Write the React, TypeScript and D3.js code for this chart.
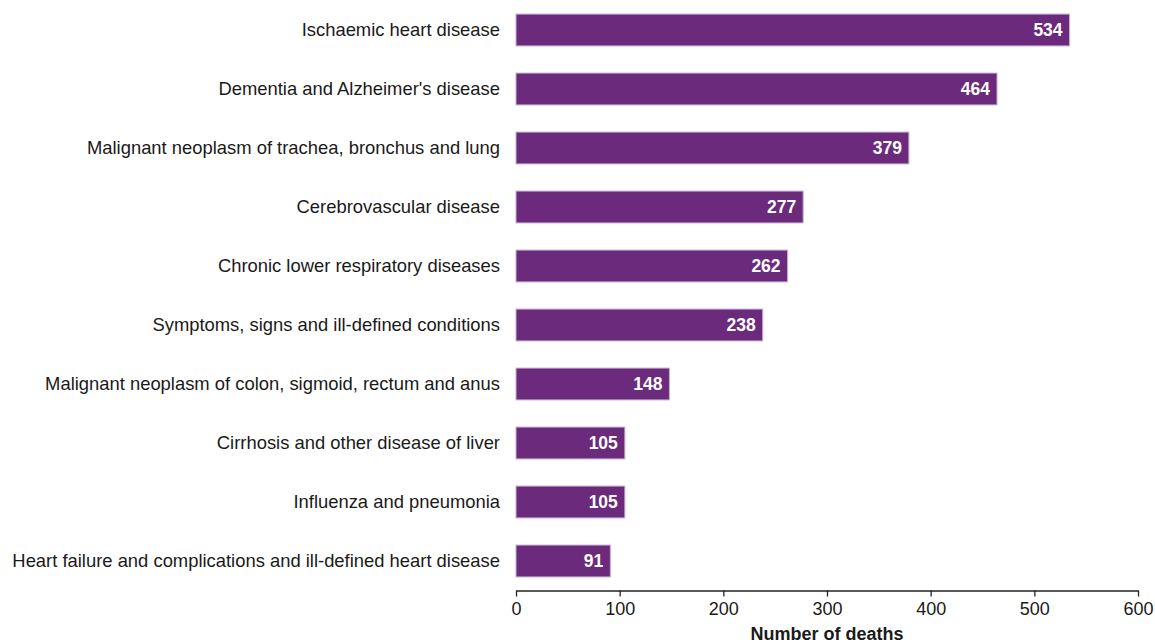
import React, { useEffect, useRef } from "react";
import * as d3 from "d3";

const categories = [
  "Ischaemic heart disease",
  "Dementia and Alzheimer's disease",
  "Malignant neoplasm of trachea, bronchus and lung",
  "Cerebrovascular disease",
  "Chronic lower respiratory diseases",
  "Symptoms, signs and ill-defined conditions",
  "Malignant neoplasm of colon, sigmoid, rectum and anus",
  "Cirrhosis and other disease of liver",
  "Influenza and pneumonia",
  "Heart failure and complications and ill-defined heart disease",
];
const deaths = [534, 464, 379, 277, 262, 238, 148, 105, 105, 91];
const xTicks = [0, 100, 200, 300, 400, 500, 600];
const axisTitle = "Number of deaths";

const W = 1155;
const H = 644;

export default function App() {
  const ref = useRef<SVGSVGElement>(null);
  useEffect(() => {
    const svg = d3.select(ref.current);
    svg.selectAll("*").remove();
    const font = "Liberation Sans, Arial, sans-serif";
    const x = d3.scaleLinear().domain([0, 600]).range([516, 1138]);
    const y = d3
      .scaleBand<string>()
      .domain(categories)
      .range([0.5, 590.5])
      .paddingInner(0.46)
      .paddingOuter(0.23);
    const data = categories.map((c, i) => ({ c, v: deaths[i] }));

    svg
      .selectAll("rect.bar")
      .data(data)
      .join("rect")
      .attr("class", "bar")
      .attr("x", x(0))
      .attr("y", (d) => y(d.c)!)
      .attr("width", (d) => x(d.v) - x(0))
      .attr("height", y.bandwidth())
      .attr("fill", "#6c2a7d")
      .attr("stroke", "#c9aed3")
      .attr("stroke-width", 1);

    svg
      .selectAll("text.val")
      .data(data)
      .join("text")
      .attr("class", "val")
      .attr("x", (d) => x(d.v) - 7)
      .attr("y", (d) => y(d.c)! + y.bandwidth() / 2)
      .attr("dy", "0.35em")
      .attr("text-anchor", "end")
      .attr("fill", "#fff")
      .attr("font-weight", "bold")
      .attr("font-size", 17.5)
      .attr("font-family", font)
      .text((d) => d.v);

    svg
      .selectAll("text.cat")
      .data(data)
      .join("text")
      .attr("class", "cat")
      .attr("x", 500)
      .attr("y", (d) => y(d.c)! + y.bandwidth() / 2)
      .attr("dy", "0.35em")
      .attr("text-anchor", "end")
      .attr("fill", "#1a1a1a")
      .attr("font-size", 18.4)
      .attr("font-family", font)
      .text((d) => d.c);

    const axis = svg
      .append("g")
      .attr("transform", `translate(0,590.5)`)
      .call(d3.axisBottom(x).tickValues(xTicks).tickSize(6).tickSizeOuter(0));
    axis.select(".domain").attr("stroke", "#222").attr("stroke-width", 1.3);
    axis.selectAll(".tick line").attr("stroke", "#222").attr("stroke-width", 1.3);
    axis
      .selectAll(".tick text")
      .attr("font-size", 18)
      .attr("font-family", font)
      .attr("fill", "#1a1a1a")
      .attr("dy", "0.71em")
      .attr("y", 12);

    svg
      .append("text")
      .attr("x", x(300))
      .attr("y", 640)
      .attr("text-anchor", "middle")
      .attr("font-weight", "bold")
      .attr("font-size", 18)
      .attr("font-family", font)
      .attr("fill", "#1a1a1a")
      .text(axisTitle);
  }, []);
  return (
    <svg
      ref={ref}
      width={W}
      height={H}
      style={{ position: "absolute", left: 0, top: 0, background: "#fff" }}
    />
  );
}
